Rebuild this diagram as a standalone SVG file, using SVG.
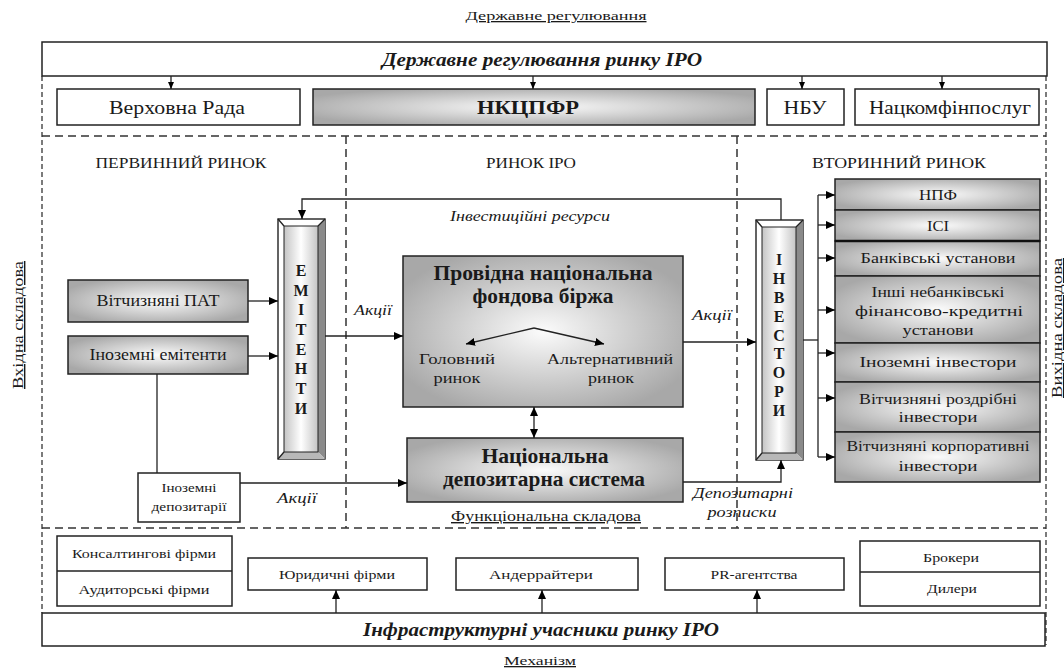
<svg xmlns="http://www.w3.org/2000/svg" width="1064" height="670" viewBox="0 0 1064 670" font-family="'Liberation Serif', 'DejaVu Serif', serif">
<defs>
<radialGradient id="g" cx="0.5" cy="0.5" r="0.58">
<stop offset="0" stop-color="#fbfbfb"/>
<stop offset="1" stop-color="#a8a8a8"/>
</radialGradient>
<linearGradient id="col" x1="0" y1="0" x2="1" y2="0">
<stop offset="0" stop-color="#c4c4c4"/>
<stop offset="0.5" stop-color="#ffffff"/>
<stop offset="1" stop-color="#c4c4c4"/>
</linearGradient>
<marker id="a" markerUnits="userSpaceOnUse" markerWidth="9" markerHeight="8" refX="9" refY="4" orient="auto">
<path d="M0,0 L9,4 L0,8 z" fill="#000"/>
</marker>
<marker id="as" markerUnits="userSpaceOnUse" markerWidth="7" markerHeight="6" refX="7" refY="3" orient="auto">
<path d="M0,0 L7,3 L0,6 z" fill="#000"/>
</marker>
<marker id="ab" markerUnits="userSpaceOnUse" markerWidth="9" markerHeight="8" refX="0" refY="4" orient="auto">
<path d="M9,0 L0,4 L9,8 z" fill="#000"/>
</marker>
</defs>
<style>
text{font-family:'Liberation Serif','DejaVu Serif',serif;fill:#1a1a1a;text-anchor:middle}
.box{fill:#fff;stroke:#222;stroke-width:1.5}
.gbox{fill:url(#g);stroke:#222;stroke-width:1.5}
.ln{fill:none;stroke:#222;stroke-width:1.3}
.dash{fill:none;stroke:#333;stroke-width:1.5;stroke-dasharray:8,5}
.dot{fill:none;stroke:#444;stroke-width:1.4;stroke-dasharray:5,3}
.bi{font-weight:bold;font-style:italic}
.b{font-weight:bold}
.i{font-style:italic}
.u{text-decoration:underline}
</style>
<rect x="0" y="0" width="1064" height="670" fill="#fff"/>

<g id="frame">
<line class="dot" x1="42" y1="76" x2="42" y2="613"/>
<line class="dot" x1="1046" y1="76" x2="1046" y2="645"/>
<line class="dash" x1="42" y1="136" x2="1046" y2="136"/>
<line class="dash" x1="42" y1="528" x2="1046" y2="528"/>
<line class="dash" x1="346" y1="136" x2="346" y2="528"/>
<line class="dash" x1="737" y1="136" x2="737" y2="528"/>
</g>

<g id="labels">
<text x="556" y="20" font-size="13" class="u" textLength="181" lengthAdjust="spacingAndGlyphs">Державне регулювання</text>
<text x="181" y="168" font-size="15" textLength="171" lengthAdjust="spacingAndGlyphs">ПЕРВИННИЙ РИНОК</text>
<text x="531" y="168" font-size="15" textLength="90" lengthAdjust="spacingAndGlyphs">РИНОК IPO</text>
<text x="899" y="168" font-size="15" textLength="174" lengthAdjust="spacingAndGlyphs">ВТОРИННИЙ РИНОК</text>
<text transform="translate(23,325) rotate(-90)" x="0" y="0" font-size="14" class="u" textLength="128" lengthAdjust="spacingAndGlyphs">Вхідна складова</text>
<text transform="translate(1062,328) rotate(-90)" x="0" y="0" font-size="14" class="u" textLength="140" lengthAdjust="spacingAndGlyphs">Вихідна складова</text>
<text x="546" y="521" font-size="14" class="u" textLength="190" lengthAdjust="spacingAndGlyphs">Функціональна складова</text>
<text x="540" y="665" font-size="13" class="u" textLength="72" lengthAdjust="spacingAndGlyphs">Механізм</text>
<text x="373" y="315" font-size="15" class="i" textLength="38" lengthAdjust="spacingAndGlyphs">Акції</text>
<text x="297" y="503" font-size="15" class="i" textLength="40" lengthAdjust="spacingAndGlyphs">Акції</text>
<text x="712" y="320" font-size="15" class="i" textLength="40" lengthAdjust="spacingAndGlyphs">Акції</text>
<text x="530" y="221" font-size="15" class="i" textLength="160" lengthAdjust="spacingAndGlyphs">Інвестиційні ресурси</text>
<text x="743" y="498" font-size="15" class="i" textLength="100" lengthAdjust="spacingAndGlyphs">Депозитарні</text>
<text x="742" y="517" font-size="15" class="i" textLength="69" lengthAdjust="spacingAndGlyphs">розписки</text>
</g>

<g id="gov">
<rect class="box" x="42" y="42" width="1005" height="34"/>
<text x="542" y="66" font-size="19" class="bi" textLength="320" lengthAdjust="spacingAndGlyphs">Державне регулювання ринку IPO</text>
</g>
<g id="rada">
<rect class="box" x="57" y="89" width="243" height="36"/>
<text x="177" y="114" font-size="19" textLength="136" lengthAdjust="spacingAndGlyphs">Верховна Рада</text>
</g>
<g id="nkcpfr">
<rect class="gbox" x="313" y="89" width="442" height="36"/>
<text x="528" y="114" font-size="19" class="b" textLength="102" lengthAdjust="spacingAndGlyphs">НКЦПФР</text>
</g>
<g id="nbu">
<rect class="box" x="767" y="89" width="77" height="36"/>
<text x="805" y="114" font-size="19" textLength="43" lengthAdjust="spacingAndGlyphs">НБУ</text>
</g>
<g id="natskom">
<rect class="box" x="855" y="89" width="184" height="36"/>
<text x="950" y="114" font-size="19" textLength="162" lengthAdjust="spacingAndGlyphs">Нацкомфінпослуг</text>
</g>

<g id="pat">
<rect class="gbox" x="68" y="280" width="180" height="42"/>
<text x="158" y="306" font-size="16" textLength="123" lengthAdjust="spacingAndGlyphs">Вітчизняні ПАТ</text>
</g>
<g id="foreign-issuers">
<rect class="gbox" x="68" y="336" width="180" height="38"/>
<text x="158" y="360" font-size="16" textLength="137" lengthAdjust="spacingAndGlyphs">Іноземні емітенти</text>
</g>
<g id="foreign-depositories">
<rect class="box" x="138" y="473" width="102" height="49"/>
<text x="189" y="492" font-size="12.5" textLength="55" lengthAdjust="spacingAndGlyphs">Іноземні</text>
<text x="189" y="511" font-size="12.5" textLength="75" lengthAdjust="spacingAndGlyphs">депозитарії</text>
</g>

<g id="issuers">
<rect x="278" y="219" width="47" height="240" fill="#fff" stroke="#222" stroke-width="1.4"/>
<polygon points="325,219 325,459 318,452 318,226" fill="#8a8a8a"/>
<polygon points="278,459 325,459 318,452 284,452" fill="#b8b8b8"/>
<line class="ln" x1="278" y1="219" x2="284" y2="226"/>
<line class="ln" x1="325" y1="219" x2="318" y2="226"/>
<line class="ln" x1="278" y1="459" x2="284" y2="452"/>
<rect x="284" y="226" width="34" height="226" fill="url(#col)" stroke="#222" stroke-width="1"/>
<g font-size="16" class="b">
<text x="301" y="276">Е</text>
<text x="301" y="296">М</text>
<text x="301" y="315">І</text>
<text x="301" y="335">Т</text>
<text x="301" y="355">Е</text>
<text x="301" y="374">Н</text>
<text x="301" y="394">Т</text>
<text x="301" y="414">И</text>
</g>
</g>

<g id="exchange">
<rect class="gbox" x="403" y="256" width="280" height="151"/>
<text x="543" y="280" font-size="20" class="b" textLength="219" lengthAdjust="spacingAndGlyphs">Провідна національна</text>
<text x="543" y="303" font-size="20" class="b" textLength="141" lengthAdjust="spacingAndGlyphs">фондова біржа</text>
<text x="457" y="364" font-size="15" textLength="76" lengthAdjust="spacingAndGlyphs">Головний</text>
<text x="457" y="383" font-size="15" textLength="47" lengthAdjust="spacingAndGlyphs">ринок</text>
<text x="610" y="364" font-size="15" textLength="126" lengthAdjust="spacingAndGlyphs">Альтернативний</text>
<text x="611" y="383" font-size="15" textLength="46" lengthAdjust="spacingAndGlyphs">ринок</text>
</g>

<g id="nds">
<rect class="gbox" x="407" y="438" width="276" height="64"/>
<text x="545" y="463" font-size="20" class="b" textLength="127" lengthAdjust="spacingAndGlyphs">Національна</text>
<text x="544" y="486" font-size="20" class="b" textLength="202" lengthAdjust="spacingAndGlyphs">депозитарна система</text>
</g>

<g id="investors">
<rect x="756" y="220" width="47" height="240" fill="#fff" stroke="#222" stroke-width="1.4"/>
<polygon points="803,220 803,460 796,453 796,227" fill="#8a8a8a"/>
<polygon points="756,460 803,460 796,453 762,453" fill="#b8b8b8"/>
<line class="ln" x1="756" y1="220" x2="762" y2="227"/>
<line class="ln" x1="803" y1="220" x2="796" y2="227"/>
<line class="ln" x1="756" y1="460" x2="762" y2="453"/>
<rect x="762" y="227" width="34" height="226" fill="url(#col)" stroke="#222" stroke-width="1"/>
<g font-size="16" class="b">
<text x="779" y="265">І</text>
<text x="779" y="284">Н</text>
<text x="779" y="303">В</text>
<text x="779" y="322">Е</text>
<text x="779" y="341">С</text>
<text x="779" y="359">Т</text>
<text x="779" y="378">О</text>
<text x="779" y="397">Р</text>
<text x="779" y="416">И</text>
</g>
</g>

<g id="npf">
<rect class="gbox" x="835" y="179" width="205" height="31"/>
<text x="938" y="200" font-size="15" textLength="38" lengthAdjust="spacingAndGlyphs">НПФ</text>
</g>
<g id="isi">
<rect class="gbox" x="835" y="210" width="205" height="31"/>
<text x="938" y="231" font-size="15" textLength="22" lengthAdjust="spacingAndGlyphs">ІСІ</text>
</g>
<g id="banks">
<rect class="gbox" x="835" y="241" width="205" height="35"/>
<line x1="835" y1="241" x2="1040" y2="241" stroke="#111" stroke-width="2.5"/>
<text x="938" y="263" font-size="15" textLength="155" lengthAdjust="spacingAndGlyphs">Банківські установи</text>
</g>
<g id="nonbank">
<rect class="gbox" x="835" y="276" width="205" height="67"/>
<text x="938" y="297" font-size="15" textLength="133" lengthAdjust="spacingAndGlyphs">Інші небанківські</text>
<text x="939" y="316" font-size="15" textLength="168" lengthAdjust="spacingAndGlyphs">фінансово-кредитні</text>
<text x="938" y="335" font-size="15" textLength="71" lengthAdjust="spacingAndGlyphs">установи</text>
</g>
<g id="foreign-investors">
<rect class="gbox" x="835" y="343" width="205" height="39"/>
<text x="938" y="367" font-size="15" textLength="157" lengthAdjust="spacingAndGlyphs">Іноземні інвестори</text>
</g>
<g id="retail">
<rect class="gbox" x="835" y="382" width="205" height="50"/>
<text x="938" y="404" font-size="15" textLength="158" lengthAdjust="spacingAndGlyphs">Вітчизняні роздрібні</text>
<text x="938" y="422" font-size="15" textLength="79" lengthAdjust="spacingAndGlyphs">інвестори</text>
</g>
<g id="corporate">
<rect class="gbox" x="835" y="432" width="205" height="50"/>
<text x="938" y="451" font-size="15" textLength="183" lengthAdjust="spacingAndGlyphs">Вітчизняні корпоративні</text>
<text x="938" y="471" font-size="15" textLength="79" lengthAdjust="spacingAndGlyphs">інвестори</text>
</g>

<g id="consulting">
<rect class="box" x="57" y="536" width="175" height="70"/>
<line x1="57" y1="571" x2="232" y2="571" stroke="#222" stroke-width="1.5"/>
<text x="144" y="558" font-size="13" textLength="144" lengthAdjust="spacingAndGlyphs">Консалтингові фірми</text>
<text x="144" y="594" font-size="13" textLength="131" lengthAdjust="spacingAndGlyphs">Аудиторські фірми</text>
</g>
<g id="legal">
<rect class="box" x="248" y="558" width="179" height="32"/>
<text x="337" y="579" font-size="13" textLength="116" lengthAdjust="spacingAndGlyphs">Юридичні фірми</text>
</g>
<g id="underwriters">
<rect class="box" x="456" y="558" width="182" height="32"/>
<text x="541" y="579" font-size="13" textLength="104" lengthAdjust="spacingAndGlyphs">Андеррайтери</text>
</g>
<g id="pr">
<rect class="box" x="665" y="558" width="179" height="32"/>
<text x="754" y="579" font-size="13" textLength="87" lengthAdjust="spacingAndGlyphs">PR-агентства</text>
</g>
<g id="brokers">
<rect class="box" x="860" y="541" width="180" height="65"/>
<line x1="860" y1="572" x2="1040" y2="572" stroke="#222" stroke-width="1.5"/>
<text x="951" y="562" font-size="13" textLength="56" lengthAdjust="spacingAndGlyphs">Брокери</text>
<text x="952" y="593" font-size="13" textLength="50" lengthAdjust="spacingAndGlyphs">Дилери</text>
</g>
<g id="infra">
<rect class="box" x="42" y="613" width="1003" height="33"/>
<text x="541" y="636" font-size="19" class="bi" textLength="356" lengthAdjust="spacingAndGlyphs">Інфраструктурні учасники ринку IPO</text>
</g>

<g id="connectors">
<line class="ln" x1="171" y1="76" x2="171" y2="89" marker-end="url(#as)"/>
<line class="ln" x1="533" y1="76" x2="533" y2="89" marker-end="url(#as)"/>
<line class="ln" x1="802" y1="76" x2="802" y2="89" marker-end="url(#as)"/>
<line class="ln" x1="942" y1="76" x2="942" y2="89" marker-end="url(#as)"/>
<line class="ln" x1="248" y1="301" x2="278" y2="301" marker-end="url(#a)"/>
<line class="ln" x1="248" y1="356" x2="278" y2="356" marker-end="url(#a)"/>
<line class="ln" x1="157" y1="374" x2="157" y2="473"/>
<line class="ln" x1="240" y1="483" x2="407" y2="483" marker-end="url(#a)"/>
<line class="ln" x1="325" y1="336" x2="403" y2="336" marker-end="url(#a)"/>
<line class="ln" x1="683" y1="342" x2="756" y2="342" marker-end="url(#a)"/>
<polyline class="ln" points="781,220 781,199 302,199 302,219" marker-end="url(#a)"/>
<polyline class="ln" points="683,482 781,482 781,460" marker-end="url(#a)"/>
<line class="ln" x1="534" y1="407" x2="534" y2="438" marker-start="url(#ab)" marker-end="url(#a)"/>
<line class="ln" x1="534" y1="328" x2="466" y2="344" marker-end="url(#a)"/>
<line class="ln" x1="534" y1="328" x2="604" y2="344" marker-end="url(#a)"/>
<line class="ln" x1="803" y1="340" x2="818" y2="340"/>
<line class="ln" x1="818" y1="195" x2="818" y2="457"/>
<line class="ln" x1="818" y1="195" x2="835" y2="195" marker-end="url(#a)"/>
<line class="ln" x1="818" y1="225" x2="835" y2="225" marker-end="url(#a)"/>
<line class="ln" x1="818" y1="258" x2="835" y2="258" marker-end="url(#a)"/>
<line class="ln" x1="818" y1="310" x2="835" y2="310" marker-end="url(#a)"/>
<line class="ln" x1="818" y1="353" x2="835" y2="353" marker-end="url(#a)"/>
<line class="ln" x1="818" y1="398" x2="835" y2="398" marker-end="url(#a)"/>
<line class="ln" x1="818" y1="457" x2="835" y2="457" marker-end="url(#a)"/>
<line class="ln" x1="336" y1="613" x2="336" y2="590" marker-end="url(#a)"/>
<line class="ln" x1="542" y1="613" x2="542" y2="590" marker-end="url(#a)"/>
<line class="ln" x1="757" y1="613" x2="757" y2="590" marker-end="url(#a)"/>
</g>
</svg>
